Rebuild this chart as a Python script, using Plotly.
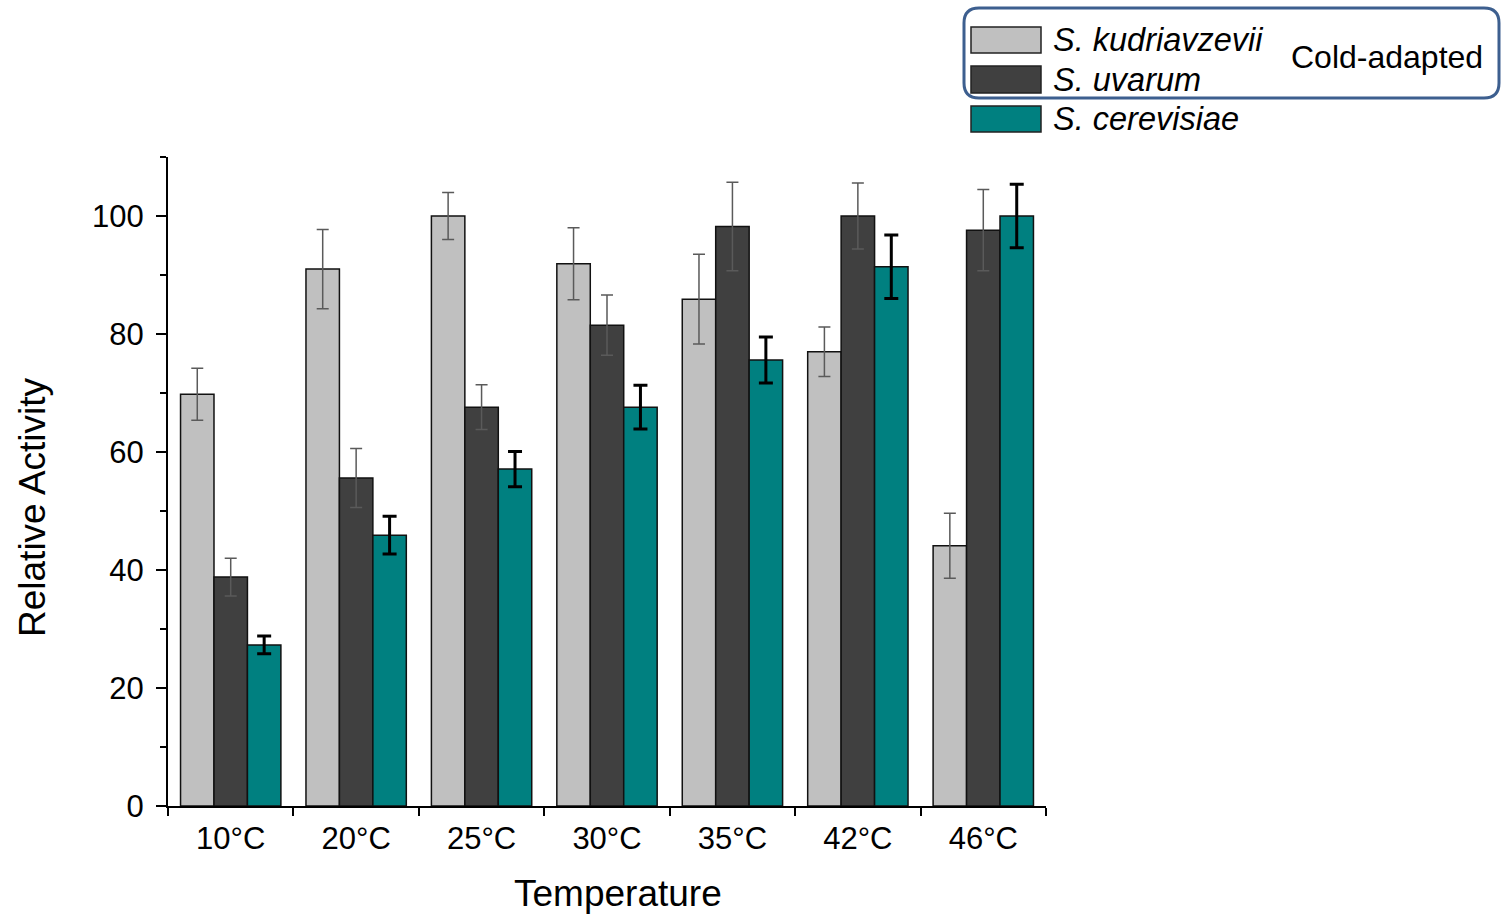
import plotly.graph_objects as go

# Temperatures tested
temperatures = ["10°C", "20°C", "25°C", "30°C", "35°C", "42°C", "46°C"]

# Relative activity (%) and standard deviations per species
kudriavzevii = [69.8, 91.0, 100.0, 91.9, 85.9, 77.0, 44.1]
kudriavzevii_err = [4.4, 6.7, 4.0, 6.1, 7.6, 4.2, 5.5]

uvarum = [38.8, 55.6, 67.6, 81.5, 98.2, 100.0, 97.6]
uvarum_err = [3.2, 5.0, 3.8, 5.1, 7.5, 5.6, 6.9]

cerevisiae = [27.3, 45.9, 57.1, 67.6, 75.6, 91.4, 100.0]
cerevisiae_err = [1.5, 3.2, 3.0, 3.7, 3.9, 5.4, 5.4]

species = ["S. kudriavzevii", "S. uvarum", "S. cerevisiae"]
colors = ["#C0C0C0", "#404040", "#008080"]

FONT = "Liberation Sans, Arial, sans-serif"

# Figure geometry (pixels)
W, H = 1505, 914
ML, MR, MT, MB = 168, 459, 157, 108
PW, PH = W - ML - MR, H - MT - MB


def px(x):
    return (x - ML) / PW


def py(y):
    return (H - MB - y) / PH


fig = go.Figure()

series = [
    (kudriavzevii, kudriavzevii_err, "#5a5a5a", 1.5, 6),
    (uvarum, uvarum_err, "#5a5a5a", 1.5, 6),
    (cerevisiae, cerevisiae_err, "#000000", 3, 7),
]
for name, color, (vals, errs, ecol, ethick, ewidth) in zip(species, colors, series):
    fig.add_trace(go.Bar(
        x=temperatures, y=vals, name=name,
        marker=dict(color=color, line=dict(color="#111111", width=1.5)),
        error_y=dict(type="data", array=errs, visible=True,
                     color=ecol, thickness=ethick, width=ewidth),
        showlegend=False,
    ))

fig.update_layout(
    width=W, height=H,
    margin=dict(l=ML, r=MR, t=MT, b=MB, autoexpand=False),
    paper_bgcolor="white", plot_bgcolor="white",
    barmode="group", bargap=0.2, bargroupgap=0,
    font=dict(family=FONT, color="black"),
)

fig.update_xaxes(
    type="category", tickson="boundaries",
    showline=True, linecolor="black", linewidth=2,
    ticks="outside", ticklen=8, tickwidth=2, tickcolor="black",
    tickfont=dict(size=31, family=FONT, color="black"),
    ticklabelstandoff=4,
    showgrid=False, zeroline=False,
)
fig.update_yaxes(
    range=[0, 110], dtick=20, tick0=0,
    showline=True, linecolor="black", linewidth=2,
    ticks="outside", ticklen=10, tickwidth=2, tickcolor="black",
    minor=dict(dtick=10, ticks="outside", ticklen=6, tickwidth=2, tickcolor="black"),
    tickfont=dict(size=31, family=FONT, color="black"),
    ticklabelstandoff=6,
    showgrid=False, zeroline=False,
)

# Axis titles
fig.add_annotation(text="Temperature", xref="paper", yref="paper",
                   x=px(618), y=py(893), xanchor="center", yanchor="middle",
                   showarrow=False,
                   font=dict(size=37, family=FONT, color="black"))
fig.add_annotation(text="Relative Activity", xref="paper", yref="paper",
                   x=px(32), y=py(507), xanchor="center", yanchor="middle",
                   showarrow=False, textangle=-90,
                   font=dict(size=37, family=FONT, color="black"))

# Legend: swatches and italic labels
swatch_rows = [(27, 53), (66, 93), (106, 132)]
for name, color, (y0, y1) in zip(species, colors, swatch_rows):
    fig.add_shape(type="rect", xref="paper", yref="paper",
                  x0=px(971), x1=px(1041), y0=py(y1), y1=py(y0),
                  fillcolor=color, line=dict(color="#222222", width=1.5))
    fig.add_annotation(text=f"<i>{name}</i>", xref="paper", yref="paper",
                       x=px(1051), y=py((y0 + y1) / 2), xanchor="left",
                       yanchor="middle", showarrow=False,
                       font=dict(size=32.5, family=FONT, color="black"))

fig.add_annotation(text="Cold-adapted", xref="paper", yref="paper",
                   x=px(1387), y=py(57), xanchor="center", yanchor="middle",
                   showarrow=False,
                   font=dict(size=32, family=FONT, color="black"))

# Rounded frame grouping the cold-adapted species
bx0, bx1, by0, by1, r = 964, 1499, 8, 98, 15
rx, ry = r / PW, r / PH
X0, X1, Ytop, Ybot = px(bx0), px(bx1), py(by0), py(by1)
path = (
    f"M {X0 + rx} {Ytop} L {X1 - rx} {Ytop} Q {X1} {Ytop} {X1} {Ytop - ry} "
    f"L {X1} {Ybot + ry} Q {X1} {Ybot} {X1 - rx} {Ybot} "
    f"L {X0 + rx} {Ybot} Q {X0} {Ybot} {X0} {Ybot + ry} "
    f"L {X0} {Ytop - ry} Q {X0} {Ytop} {X0 + rx} {Ytop} Z"
)
fig.add_shape(type="path", xref="paper", yref="paper", path=path,
              line=dict(color="#3D5F8F", width=3))

fig.write_html("out.html")
